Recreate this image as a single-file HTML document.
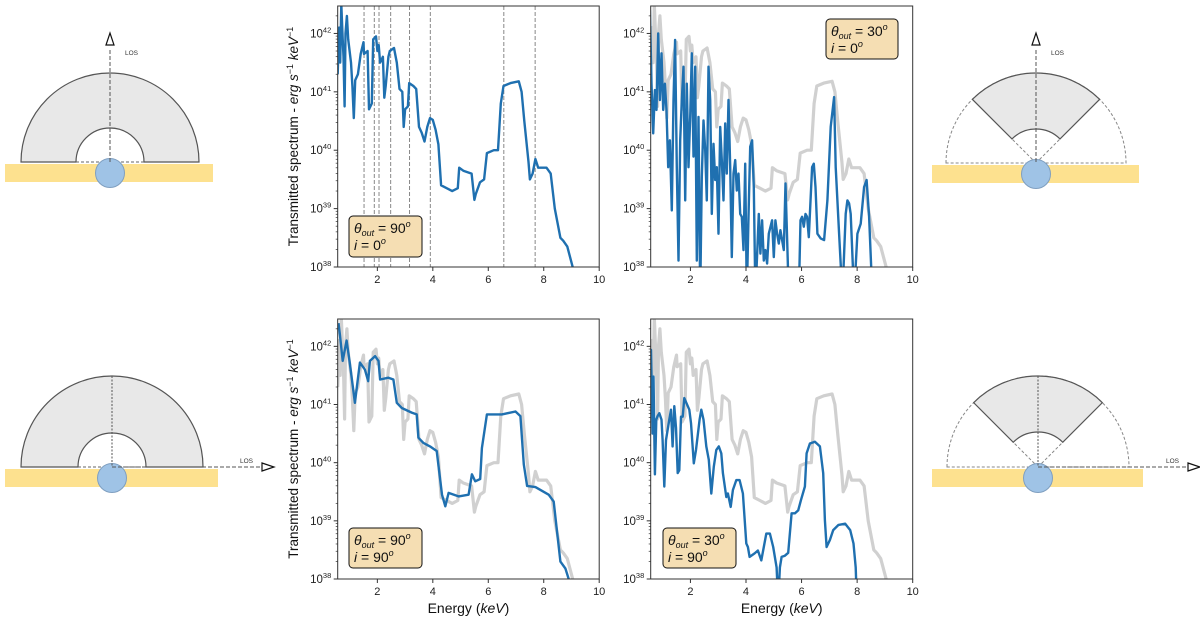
<!DOCTYPE html>
<html><head><meta charset="utf-8"><style>
html,body{margin:0;padding:0;background:#fff;}
svg{display:block;font-family:"Liberation Sans",sans-serif;}
</style></head><body>
<svg id="fig" width="1200" height="626" viewBox="0 0 1200 626" xmlns="http://www.w3.org/2000/svg">
<g id="diagrams"></g>
<g id="plots"></g>
</svg>
<script>
// ---- data (energy keV, log10 flux) ----
const energyA=[0.57,0.62,0.66,0.70,0.75,0.78,0.82,0.85,0.90,0.95,1.05,1.10,1.15,1.20,1.30,1.40,1.50,1.52,1.65,1.70,1.80,1.85,1.95,2.0,2.05,2.1,2.2,2.25,2.3,2.4,2.45,2.6,2.7,2.8,2.9,2.95,3.0,3.1,3.15,3.3,3.4,3.5,3.6,3.7,3.8,3.9,4.0,4.1,4.2,4.3,4.5,4.7,4.9,4.95,5.1,5.4,5.5,5.55,5.7,5.85,5.95,6.2,6.35,6.45,6.55,6.8,7.1,7.2,7.3,7.45,7.5,7.6,7.7,7.8,8.1,8.25,8.4,8.6,8.7,8.85,9.1];
const logA=[41.3,42.1,41.5,42.5,41.9,41.6,40.75,42.0,42.3,41.9,41.5,41.1,40.55,41.2,41.3,41.65,41.85,41.65,41.7,40.7,40.8,41.9,41.95,41.7,41.8,41.5,41.6,40.9,41.1,41.6,41.7,41.75,41.5,41.05,41.0,40.4,40.7,40.75,41.15,41.1,41.05,40.4,40.3,40.15,40.4,40.55,40.52,40.35,40.1,39.4,39.35,39.3,39.35,39.7,39.65,39.6,39.15,39.25,39.45,39.5,39.95,40.0,40.0,40.8,41.1,41.15,41.18,41.0,40.5,39.8,39.5,39.6,39.85,39.7,39.7,39.6,39.0,38.5,38.45,38.35,37.9];
const energyB=[0.54,0.60,0.66,0.72,0.78,0.84,0.90,0.96,1.02,1.08,1.14,1.20,1.26,1.33,1.39,1.45,1.51,1.57,1.63,1.69,1.75,1.81,1.87,1.93,1.99,2.05,2.11,2.17,2.23,2.29,2.35,2.41,2.47,2.53,2.59,2.65,2.71,2.77,2.83,2.89,2.95,3.01,3.07,3.13,3.19,3.25,3.31,3.37,3.43,3.49,3.55,3.61,3.67,3.73,3.79,3.85,3.91,3.97,4.03,4.09,4.15,4.22,4.28,4.34,4.46,4.52,4.58,4.64,4.70,4.76,4.82,4.94,5.00,5.06,5.12,5.18,5.24,5.30,5.36,5.42,5.54,5.90,5.96,6.02,6.08,6.14,6.20,6.26,6.38,6.44,6.50,6.57,6.69,6.81,6.93,7.05,7.17,7.23,7.35,7.47,7.59,7.65,7.71,7.77,7.89,8.01,8.13,8.25,8.34,8.43,8.55];
const logB=[42.4,41.14,40.29,41.03,40.69,42.0,40.86,41.66,40.69,41.14,40.69,39.71,40.17,38.97,40.86,41.89,39.71,38.11,40.17,40.86,41.43,39.14,41.14,39.71,40.57,41.66,39.89,41.43,38.11,40.57,37.5,39.54,40.51,40.0,39.14,41.43,40.86,38.91,40.11,39.49,39.71,38.57,40.4,39.83,39.14,40.46,39.6,40.86,39.71,38.17,39.6,39.83,39.31,39.6,38.91,38.86,38.29,39.77,37.5,38.86,40.06,40.17,39.37,37.5,38.91,38.23,38.8,38.11,38.29,38.06,38.57,38.8,38.17,38.8,38.57,38.4,38.63,38.46,38.29,39.43,37.5,37.5,38.8,38.86,38.69,38.91,38.86,38.51,39.71,39.77,39.37,38.57,38.49,38.46,39.14,40.4,40.91,39.71,38.57,37.5,38.91,39.14,39.09,38.91,37.5,38.57,38.74,39.37,39.49,38.86,37.5];
const energyC=[0.6,0.65,0.75,0.89,1.01,1.19,1.37,1.55,1.67,1.73,1.92,2.04,2.1,2.4,2.58,2.7,2.88,3.24,3.42,3.48,3.66,3.9,4.14,4.33,4.45,4.57,4.93,5.29,5.41,5.53,5.71,5.77,5.95,6.49,6.98,7.16,7.28,7.4,7.7,8.18,8.36,8.48,8.6,8.78,8.9,8.96];
const logC=[42.4,42.2,41.75,42.1,41.7,41.03,41.72,41.6,41.4,41.75,41.83,41.75,41.43,41.46,41.43,41.03,40.94,40.86,40.83,40.43,40.34,40.28,40.2,39.45,39.25,39.48,39.42,39.45,39.8,39.68,39.72,40.25,40.83,40.83,40.88,40.8,39.97,39.6,39.58,39.45,39.33,38.82,38.3,38.18,38.0,37.9];
const energyD=[0.52,0.58,0.64,0.67,0.72,0.77,0.82,0.88,0.96,1.0,1.06,1.12,1.24,1.3,1.36,1.42,1.48,1.54,1.6,1.66,1.72,1.78,1.96,2.02,2.12,2.2,2.33,2.39,2.47,2.57,2.66,2.75,2.84,2.93,3.02,3.11,3.17,3.29,3.35,3.45,3.53,3.65,3.77,3.89,4.01,4.07,4.13,4.31,4.43,4.55,4.73,4.86,4.98,5.1,5.16,5.22,5.28,5.4,5.52,5.64,5.76,5.88,5.98,6.12,6.18,6.3,6.48,6.66,6.78,6.84,6.9,7.02,7.14,7.33,7.57,7.75,7.87,7.95,7.99];
const logD=[41.08,41.94,40.5,41.48,39.8,40.74,40.8,40.85,40.74,40.39,39.59,40.39,40.74,40.91,40.28,40.97,40.6,39.82,39.87,40.79,40.79,41.11,40.91,40.68,39.99,40.22,40.74,40.91,40.74,40.28,40.05,39.47,39.93,40.22,40.28,40.16,39.82,39.41,39.47,39.24,39.53,39.7,39.7,39.47,38.61,38.55,38.38,38.44,38.49,38.32,38.78,38.78,38.55,38.2,37.6,38.2,38.38,38.4,38.45,39.13,39.13,39.18,39.36,39.59,40.16,40.33,40.36,40.28,39.82,39.01,38.55,38.67,38.84,38.93,38.95,38.84,38.61,38.2,37.6];
const edgeLines=[1.52,1.89,2.06,2.48,3.16,3.91,6.56,7.69];
const xTicks=[2,4,6,8,10];
const yDecades=[38,39,40,41,42];
const xMin=0.57,xMax=10,yMin=38,yMax=42.47;

const NS='http://www.w3.org/2000/svg';
function mk(tag,attrs,parent){const e=document.createElementNS(NS,tag);for(const k in attrs)e.setAttribute(k,attrs[k]);if(parent)parent.appendChild(e);return e;}
const plots=document.getElementById('plots');
const diag=document.getElementById('diagrams');

const panels=[
 {x0:337.7,y0:6,w:261.5,h:261,gray:false,series:[energyA,logA],theta:'90',inc:'0',box:[349,216,73,41],ylab:true,xlab:false,edges:true,name:'panel-90-0'},
 {x0:650.7,y0:6,w:262,h:261,gray:true,series:[energyB,logB],theta:'30',inc:'0',box:[826,19,72,40],ylab:false,xlab:false,edges:false,name:'panel-30-0'},
 {x0:337.7,y0:319,w:261.5,h:260,gray:true,series:[energyC,logC],theta:'90',inc:'90',box:[349,528,73,40],ylab:true,xlab:true,edges:false,name:'panel-90-90'},
 {x0:650.7,y0:319,w:262,h:260,gray:true,series:[energyD,logD],theta:'30',inc:'90',box:[663,528,73,40],ylab:false,xlab:true,edges:false,name:'panel-30-90'}
];
panels.forEach((p,pi)=>{
 const g=mk('g',{},plots);
 
 
 const X=v=>p.x0+(v-xMin)/(xMax-xMin)*p.w;
 const Y=v=>p.y0+p.h-(v-yMin)/(yMax-yMin)*p.h;
 const cid='clip'+pi;
 const cp=mk('clipPath',{id:cid},g);mk('rect',{x:p.x0,y:p.y0,width:p.w,height:p.h},cp);
 if(p.edges){edgeLines.forEach(e=>{const l=mk('line',{x1:X(e),x2:X(e),y1:p.y0,y2:p.y0+p.h,stroke:'#888','stroke-width':1,'stroke-dasharray':'4,2'},g);
  
  });}
 const line=(ex,ly,col,sw,nm)=>{const pts=ex.map((e,i)=>X(e).toFixed(1)+','+Y(ly[i]).toFixed(1)).join(' ');
  const pl=mk('polyline',{points:pts,fill:'none',stroke:col,'stroke-width':sw,'stroke-linejoin':'round','clip-path':'url(#'+cid+')'},g);
  
  };
 if(p.gray)line(energyA,logA,'#d0d0d0',3.2,'reference-spectrum');
 line(p.series[0],p.series[1],'#1f70b0',2.4,'transmitted-spectrum');
 const fr=mk('rect',{x:p.x0,y:p.y0,width:p.w,height:p.h,fill:'none',stroke:'#333','stroke-width':1},g);
 
 
 xTicks.forEach(t=>{const x=X(t);mk('line',{x1:x,x2:x,y1:p.y0+p.h,y2:p.y0+p.h+4,stroke:'#333'},g);
  const tx=mk('text',{x:x,y:p.y0+p.h+16,'font-size':11,'text-anchor':'middle',fill:'#222'},g);tx.textContent=t;
  
  });
 yDecades.forEach(d=>{const y=Y(d);mk('line',{x1:p.x0-4,x2:p.x0,y1:y,y2:y,stroke:'#333'},g);
  const tx=mk('text',{x:p.x0-17,y:y+4,'font-size':11.5,'text-anchor':'middle',fill:'#222'},g);
  
  
  tx.textContent='10';const s=mk('tspan',{'font-size':7.5,dy:-5},tx);s.textContent=String(d);
  for(let m=2;m<10;m++){const v=d+Math.log10(m);if(v<=yMax){const ym=Y(v);mk('line',{x1:p.x0-2,x2:p.x0,y1:ym,y2:ym,stroke:'#333','stroke-width':0.7},g);}}
 });
 const [bx,by,bw,bh]=p.box;
 const bg=mk('g',{},g);
 
 
 mk('rect',{x:bx,y:by,width:bw,height:bh,rx:4,fill:'#f5deb3',stroke:'#111','stroke-width':1},bg);
 const t1=mk('text',{x:bx+5,y:by+17,'font-size':14,fill:'#111'},bg);
 t1.innerHTML='<tspan font-style="italic">θ</tspan><tspan font-style="italic" font-size="9" dy="3">out</tspan><tspan dy="-3"> = '+p.theta+'</tspan><tspan font-style="italic" font-size="9" dy="-6">o</tspan>';
 const t2=mk('text',{x:bx+5,y:by+34,'font-size':14,fill:'#111'},bg);
 t2.innerHTML='<tspan font-style="italic">i</tspan> = '+p.inc+'<tspan font-style="italic" font-size="9" dy="-6">o</tspan>';
 if(p.ylab){const cy=p.y0+p.h/2;const yl=mk('text',{x:0,y:0,transform:'translate(298,'+cy+') rotate(-90)','font-size':13.5,'text-anchor':'middle',fill:'#111'},g);
  
  
  yl.innerHTML='Transmitted spectrum - <tspan font-style="italic">erg s</tspan><tspan font-size="9" dy="-5">−1</tspan><tspan dy="5" font-style="italic"> keV</tspan><tspan font-size="9" dy="-5">−1</tspan>';}
 if(p.xlab){const xl=mk('text',{x:p.x0+p.w/2,y:613,'font-size':14,'text-anchor':'middle',fill:'#111'},g);
  
  
  xl.innerHTML='Energy (<tspan font-style="italic">keV</tspan>)';}
});

function diagram(cx,by,R,r,cone,losVertical,bandX0,bandX1,nm){
 const g=mk('g',{},diag);
 
 
 const gray='#e8e8e8',st='#555';
 if(!cone){
  mk('path',{d:`M${cx-R},${by} A${R},${R} 0 0 1 ${cx+R},${by} L${cx+r},${by} A${r},${r} 0 0 0 ${cx-r},${by} Z`,fill:gray,stroke:st,'stroke-width':1.2},g);
  mk('line',{x1:cx-r,x2:cx+r,y1:by,y2:by,stroke:'#666','stroke-dasharray':'3,2'},g);
 }else{
  mk('path',{d:`M${cx-R},${by} A${R},${R} 0 0 1 ${cx+R},${by} Z`,fill:'none',stroke:'#888','stroke-dasharray':'3,2'},g);
  const a=Math.PI/4,s=Math.sin(a),c=Math.cos(a);
  mk('path',{d:`M${cx-R*s},${by-R*c} A${R},${R} 0 0 1 ${cx+R*s},${by-R*c} L${cx+r*s},${by-r*c} A${r},${r} 0 0 0 ${cx-r*s},${by-r*c} Z`,fill:gray,stroke:st,'stroke-width':1.2},g);
  mk('line',{x1:cx,y1:by,x2:cx-r*s,y2:by-r*c,stroke:'#888','stroke-dasharray':'3,2'},g);
  mk('line',{x1:cx,y1:by,x2:cx+r*s,y2:by-r*c,stroke:'#888','stroke-dasharray':'3,2'},g);
 }
 mk('rect',{x:bandX0,y:by+2,width:bandX1-bandX0,height:18,fill:'#fde18f'},g);
 mk('circle',{cx:cx,cy:by+11,r:14.5,fill:'#9fc3e6',stroke:'#7f9fc0','stroke-width':1},g);
 const lt=mk('text',{'font-size':6.5,fill:'#333'},g);lt.textContent='LOS';
 if(losVertical){
  mk('line',{x1:cx,x2:cx,y1:50,y2:by,stroke:'#555','stroke-dasharray':'4,2'},g);
  mk('path',{d:`M${cx-4},${45} L${cx},${33} L${cx+4},${45} Z`,fill:'#fff',stroke:'#111','stroke-width':1.2},g);
  lt.setAttribute('x',cx+15);lt.setAttribute('y',55);
 }else{
  mk('line',{x1:cx,x2:cx,y1:by-R,y2:by,stroke:'#555','stroke-dasharray':'2,1.5'},g);
  mk('line',{x1:cx,x2:cx+150,y1:by,y2:by,stroke:'#555','stroke-dasharray':'4,2'},g);
  mk('path',{d:`M${cx+150},${by-4} L${cx+162},${by} L${cx+150},${by+4} Z`,fill:'#fff',stroke:'#111','stroke-width':1.2},g);
  lt.setAttribute('x',cx+128);lt.setAttribute('y',by-4);
 }
}
diagram(110,162,89,34,false,true,5,213,'diagram-90-0');
diagram(1036,163,90,34,true,true,932,1139,'diagram-30-0');
diagram(112,467,91,34,false,false,5,218,'diagram-90-90');
diagram(1038,467,91,35,true,false,932,1143,'diagram-30-90');
</script>
</body></html>
